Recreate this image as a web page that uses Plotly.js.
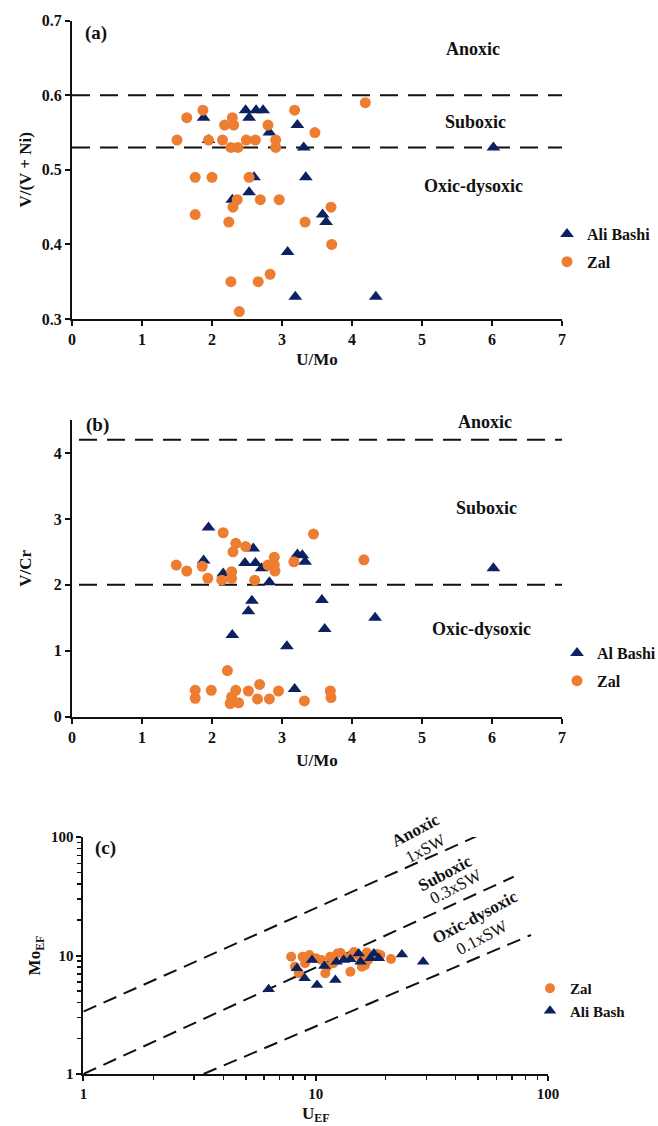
<!DOCTYPE html>
<html>
<head>
<meta charset="utf-8">
<script src="https://cdn.plot.ly/plotly-3.0.1.min.js"></script>
<style>html,body{margin:0;padding:0;background:#fff;}#chart{width:658px;height:1126px;}</style>
</head>
<body>
<div id="chart"></div>
<script>
// ---------- Panel (a): V/(V+Ni) vs U/Mo ----------
const aliA_x = [1.88,1.95,2.48,2.63,2.73,2.53,2.82,3.22,3.31,2.60,3.34,2.53,2.29,3.58,3.63,3.08,3.19,4.34,6.02];
const aliA_y = [0.57,0.54,0.58,0.58,0.58,0.57,0.55,0.56,0.53,0.49,0.49,0.47,0.46,0.44,0.43,0.39,0.33,0.33,0.53];
const zalA_x = [1.50,1.64,1.87,1.95,1.76,2.00,1.76,2.15,2.18,2.29,2.31,2.27,2.37,2.49,2.62,2.53,2.36,2.30,2.24,2.69,2.96,2.80,2.91,2.91,3.18,3.47,4.19,3.70,3.33,3.71,2.27,2.66,2.83,2.39];
const zalA_y = [0.54,0.57,0.58,0.54,0.49,0.49,0.44,0.54,0.56,0.57,0.56,0.53,0.53,0.54,0.54,0.49,0.46,0.45,0.43,0.46,0.46,0.56,0.54,0.53,0.58,0.55,0.59,0.45,0.43,0.40,0.35,0.35,0.36,0.31];
const refA_x = [0, 7];
const refA_levels = [0.6, 0.53];

// ---------- Panel (b): V/Cr vs U/Mo ----------
const aliB_x = [1.95,1.88,2.16,2.47,2.59,2.62,2.71,2.82,2.57,2.52,2.29,3.07,3.18,3.22,3.29,3.33,3.57,3.61,4.33,6.02];
const aliB_y = [2.87,2.37,2.17,2.33,2.55,2.33,2.25,2.04,1.76,1.60,1.24,1.07,0.42,2.46,2.45,2.35,1.77,1.33,1.50,2.25];
const zalB_x = [1.49,1.64,1.86,1.94,2.16,2.14,2.28,2.28,2.30,2.34,2.48,2.61,2.80,2.89,2.89,2.90,3.17,3.45,4.17,2.22,1.76,1.76,1.99,2.34,2.28,2.26,2.38,2.52,2.68,2.65,2.82,2.95,3.32,3.69,3.70];
const zalB_y = [2.30,2.21,2.28,2.10,2.79,2.07,2.20,2.10,2.50,2.63,2.58,2.07,2.30,2.42,2.30,2.21,2.35,2.77,2.38,0.70,0.40,0.28,0.40,0.40,0.30,0.20,0.21,0.39,0.49,0.27,0.27,0.39,0.24,0.39,0.29];
const refB_x = [0.1, 7];
const refB_levels = [4.2, 2.0];

// ---------- Panel (c): MoEF vs UEF (log-log) ----------
const zalC_x = [7.84,8.78,9.4,10.6,11.55,12.4,13.3,14.4,15.5,16.6,18.4,21.1,8.14,8.46,11.0,11.2,14.1,15.8,16.3,11.9,16.8,19.0,12.8,14.6,9.0,10.0];
const zalC_y = [9.77,9.77,10.1,9.16,9.77,10.4,9.77,10.1,9.77,10.6,10.3,9.34,8.05,7.08,7.08,8.05,7.3,8.05,8.3,8.6,9.16,10.1,10.5,10.7,8.6,9.5];
const aliC_x = [6.27,8.3,8.96,9.64,10.13,10.9,12.15,12.3,13.2,14.1,15.3,15.6,17.2,17.8,18.7,23.5,29.0];
const aliC_y = [5.19,7.8,6.42,9.16,5.64,8.15,6.21,8.87,9.16,9.3,10.4,8.87,9.47,10.4,9.47,10.2,8.87];
const sw1_x = [1, 55.7],   sw1_y = [3.36, 113];
const sw03_x = [1, 71.2],  sw03_y = [1, 46.2];
const sw01_x = [3.29, 84.5], sw01_y = [1, 14.9];

const ORANGE = '#ED7D31';
const NAVY = '#0B2160';
const FONT = 'Liberation Serif, Times New Roman, serif';

function refLine(x, y, xa, ya, dash) {
  return {x: x, y: y, xaxis: xa, yaxis: ya, mode: 'lines', showlegend: false, hoverinfo: 'skip',
          line: {color: '#111', width: 2, dash: dash}};
}

const traces = [];
refA_levels.forEach(v => traces.push(refLine(refA_x, [v, v], 'x', 'y', '18px,10px')));
traces.push({x: aliA_x, y: aliA_y, xaxis: 'x', yaxis: 'y', mode: 'markers', name: 'Ali Bashi', legend: 'legend', legendgroup: 'a1',
  marker: {symbol: 'triangle-up', size: 12, color: NAVY}});
traces.push({x: zalA_x, y: zalA_y, xaxis: 'x', yaxis: 'y', mode: 'markers', name: 'Zal', legend: 'legend', legendgroup: 'a2',
  marker: {symbol: 'circle', size: 11, color: ORANGE}});

refB_levels.forEach(v => traces.push(refLine(refB_x, [v, v], 'x2', 'y2', '18px,10px')));
traces.push({x: aliB_x, y: aliB_y, xaxis: 'x2', yaxis: 'y2', mode: 'markers', name: 'Al Bashi', legend: 'legend2', legendgroup: 'b1',
  marker: {symbol: 'triangle-up', size: 12, color: NAVY}});
traces.push({x: zalB_x, y: zalB_y, xaxis: 'x2', yaxis: 'y2', mode: 'markers', name: 'Zal', legend: 'legend2', legendgroup: 'b2',
  marker: {symbol: 'circle', size: 11, color: ORANGE}});

traces.push(refLine(sw1_x, sw1_y, 'x3', 'y3', '14px,8px'));
traces.push(refLine(sw03_x, sw03_y, 'x3', 'y3', '14px,8px'));
traces.push(refLine(sw01_x, sw01_y, 'x3', 'y3', '14px,8px'));
traces.push({x: zalC_x, y: zalC_y, xaxis: 'x3', yaxis: 'y3', mode: 'markers', name: 'Zal', legend: 'legend3', legendgroup: 'c1',
  marker: {symbol: 'circle', size: 10, color: ORANGE}});
traces.push({x: aliC_x, y: aliC_y, xaxis: 'x3', yaxis: 'y3', mode: 'markers', name: 'Ali Bash', legend: 'legend3', legendgroup: 'c2',
  marker: {symbol: 'triangle-up', size: 11, color: NAVY}});

const W = 658, H = 1126;
const px = v => v / W;
const py = v => 1 - v / H;

const tickFont = {family: FONT, size: 16, color: '#111', weight: 'bold'};
const titleFont = {family: FONT, size: 17, color: '#111', weight: 'bold'};

function linAxis(extra) {
  return Object.assign({showline: true, linewidth: 2, linecolor: '#111', ticks: 'outside', ticklen: 5, tickwidth: 2,
    tickcolor: '#111', showgrid: false, zeroline: false, tickfont: tickFont, fixedrange: true}, extra);
}

const legendBase = {bgcolor: 'rgba(0,0,0,0)', borderwidth: 0, xanchor: 'left', yanchor: 'top',
  font: {family: FONT, size: 16, color: '#111', weight: 'bold'}, traceorder: 'grouped', tracegroupgap: 4};

function ann(text, x, y, size, bold, angle) {
  return {text: text, x: px(x), y: py(y), xref: 'paper', yref: 'paper', showarrow: false,
    xanchor: 'center', yanchor: 'middle', textangle: angle || 0,
    font: {family: FONT, size: size, color: '#111', weight: bold ? 'bold' : 'normal'}};
}

const layout = {
  width: W, height: H,
  margin: {l: 0, r: 0, t: 0, b: 0, autoexpand: false},
  paper_bgcolor: '#fff', plot_bgcolor: '#fff',
  font: {family: FONT, color: '#111'},
  xaxis: linAxis({domain: [px(72), px(562)], anchor: 'y', range: [0, 7], dtick: 1,
    title: {text: 'U/Mo', font: titleFont, standoff: 6}}),
  yaxis: linAxis({domain: [py(319), py(20.7)], anchor: 'x', range: [0.3, 0.7], dtick: 0.1, tickformat: '.1f',
    title: {text: 'V/(V + Ni)', font: titleFont, standoff: 6}}),
  xaxis2: linAxis({domain: [px(72), px(562)], anchor: 'y2', range: [0, 7], dtick: 1,
    title: {text: 'U/Mo', font: titleFont, standoff: 9}}),
  yaxis2: linAxis({domain: [py(716.7), py(420)], anchor: 'x2', range: [0, 4.5], dtick: 1,
    title: {text: 'V/Cr', font: titleFont, standoff: 18}}),
  xaxis3: linAxis({type: 'log', domain: [px(83.4), px(548)], anchor: 'y3', range: [0, 2], dtick: 1,
    tickfont: {family: FONT, size: 15, color: '#111', weight: 'bold'},
    minor: {ticks: 'outside', ticklen: 4, tickwidth: 1.5, tickcolor: '#111', dtick: 'D1', showgrid: false},
    title: {text: 'U<sub>EF</sub>', font: titleFont, standoff: 6}}),
  yaxis3: linAxis({type: 'log', domain: [py(1074), py(837)], anchor: 'x3', range: [0, 2], dtick: 1,
    tickfont: {family: FONT, size: 15, color: '#111', weight: 'bold'},
    minor: {ticks: 'outside', ticklen: 4, tickwidth: 1.5, tickcolor: '#111', dtick: 'D1', showgrid: false},
    title: {text: 'Mo<sub>EF</sub>', font: titleFont, standoff: 6}}),
  legend: Object.assign({}, legendBase, {x: px(547), y: py(217)}),
  legend2: Object.assign({}, legendBase, {x: px(557), y: py(636)}),
  legend3: Object.assign({}, legendBase, {x: px(530), y: py(972), tracegroupgap: 0,
    font: {family: FONT, size: 15, color: '#111', weight: 'bold'}}),
  annotations: [
    ann('(a)', 95.7, 33.3, 19, true),
    ann('Anoxic', 472.6, 49.3, 18, true),
    ann('Suboxic', 475.7, 122.3, 18, true),
    ann('Oxic-dysoxic', 473.4, 186, 18, true),
    ann('(b)', 97.6, 425, 19, true),
    ann('Anoxic', 485, 422.3, 18, true),
    ann('Suboxic', 486.8, 507.7, 18, true),
    ann('Oxic-dysoxic', 481.4, 629.3, 18, true),
    ann('(c)', 105, 848, 19, true),
    ann('Anoxic', 415.2, 830.7, 17, true, -28),
    ann('1xSW', 425.6, 848.3, 17, false, -28),
    ann('Suboxic', 444.7, 873.3, 17, true, -28),
    ann('0.3xSW', 456.2, 886.7, 17, false, -28),
    ann('Oxic-dysoxic', 474.6, 917.3, 17, true, -28),
    ann('0.1xSW', 482.2, 937.3, 17, false, -28)
  ]
};

Plotly.newPlot('chart', traces, layout, {displayModeBar: false, staticPlot: true});
</script>
</body>
</html>
